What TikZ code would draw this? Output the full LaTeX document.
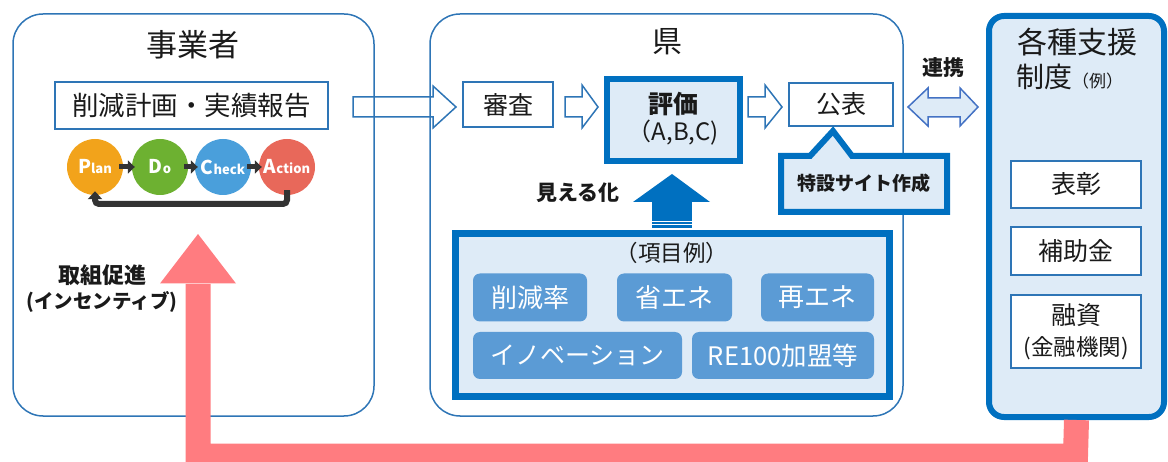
\documentclass[tikz,border=0pt]{standalone}
\usepackage{fontspec}
\setmainfont{Noto Sans CJK JP}
\usetikzlibrary{arrows.meta}
\definecolor{thinblue}{HTML}{2E75B6}
\definecolor{thickblue}{HTML}{0070C0}
\definecolor{lightblue}{HTML}{DEEBF7}
\definecolor{itemblue}{HTML}{5B9BD5}
\definecolor{pinkarrow}{HTML}{FF7C80}
\definecolor{dblborder}{HTML}{4472C4}
\definecolor{porange}{HTML}{F2A31B}
\definecolor{pgreen}{HTML}{6DB131}
\definecolor{pblue}{HTML}{4A9FDB}
\definecolor{pred}{HTML}{E8685A}
\definecolor{darkarrow}{HTML}{333333}
\definecolor{txt}{HTML}{1A1A1A}
\newcommand{\myfs}[1]{\fontsize{#1}{#1}\selectfont}
\begin{document}
\begin{tikzpicture}[x=1pt,y=-1pt,
  container/.style={draw=thinblue, line width=1.5pt, rounded corners=30pt, inner sep=0pt},
  wbox/.style={draw=thinblue, line width=1.5pt, fill=white, inner sep=0pt, text=txt},
  thickbox/.style={draw=thickblue, line width=6pt, fill=lightblue, inner sep=0pt},
  itembox/.style={fill=itemblue, rounded corners=7pt, text=white, inner sep=0pt, minimum height=48pt},
  hollow/.style={draw=thinblue, line width=1.5pt, fill=white, line join=miter},
  pdca/.style={circle, minimum size=56pt, inner sep=0pt, text=white, font=\bfseries},
  lbl/.style={text=txt, inner sep=0pt},
  pdarrow/.style={draw=darkarrow, line width=5pt, -{Triangle[length=7pt,width=13pt]}}
]
\useasboundingbox (0,0) rectangle (1168,462);
\clip (0,0) rectangle (1168,462);

% hollow arrows (behind container borders)
\draw[hollow] (353,97) -- (433,97) -- (433,86) -- (456,107) -- (433,128) -- (433,117) -- (353,117) -- cycle;
\draw[hollow] (565,97) -- (582,97) -- (582,85) -- (598,107) -- (582,128) -- (582,117) -- (565,117) -- cycle;
\draw[hollow] (748,97) -- (765,97) -- (765,85) -- (782,107) -- (765,128) -- (765,117) -- (748,117) -- cycle;

% containers
\node[container, minimum width=361pt, minimum height=402pt] (biz) at (193.5,215) {};
\node[container, minimum width=473pt, minimum height=402pt] (pref) at (666.5,215) {};

% support box
\node[draw=thickblue, line width=6pt, fill=lightblue, rounded corners=15pt, minimum width=175pt, minimum height=401pt, inner sep=0pt] (support) at (1076.5,216.5) {};

% pink incentive arrow
\coordinate (pinkbase) at (198,284);
\draw[pinkarrow, line width=25pt, line join=miter] (support.south) -- (1075.5,456) -- (198,456) -- (pinkbase);
\fill[pinkarrow] (160,283.5) -- (198,234) -- (236,283.5) -- cycle;

% titles
\node[lbl] (t1) at (193,45) {\myfs{31}事業者};
\node[lbl] (t2) at (667,42) {\myfs{30}県};
\node[lbl] (t3) at (1077,42) {\myfs{30}各種支援};
\node[lbl, anchor=west] (t4) at (1016,77) {\myfs{28}制度\myfs{17}（例）};

% business side
\node[wbox, minimum width=273pt, minimum height=47pt] (report) at (191.5,105.5) {\myfs{26.5}削減計画・実績報告};
\node[pdca, fill=porange] (plan) at (95,167) {\myfs{19}P\myfs{13}lan};
\node[pdca, fill=pgreen] (do) at (160,167) {\myfs{19}D\myfs{13}o};
\node[pdca, fill=pblue] (check) at (223,167) {\myfs{19}C\myfs{13}heck};
\node[pdca, fill=pred] (act) at (287,167) {\myfs{19}A\myfs{13}ction};
\draw[pdarrow] ([xshift=-4pt]plan.east) -- ([xshift=3pt]do.west);
\draw[pdarrow] ([xshift=-4pt]do.east) -- ([xshift=3pt]check.west);
\draw[pdarrow] ([xshift=-4pt]check.east) -- ([xshift=3pt]act.west);
\draw[draw=darkarrow, line width=6pt, rounded corners=4pt, -{Triangle[length=8pt,width=14pt]}]
  ([yshift=5pt]act.south) -- (287,204) -- (95,204) -- ([yshift=4pt]plan.south);

\node[lbl, font=\bfseries] (inc1) at (102,275) {\myfs{22}取組促進};
\node[lbl, font=\bfseries] (inc2) at (102,302) {\myfs{19.5}(インセンティブ)};

% prefecture side
\node[wbox, minimum width=90pt, minimum height=45pt] (shinsa) at (508,104.5) {\myfs{25}審査};
\node[thickbox, minimum width=133pt, minimum height=82pt] (hyouka) at (673.5,120) {};
\node[lbl, font=\bfseries] (hy1) at (673.5,104) {\myfs{25}評価};
\node[lbl] (hy2) at (673.5,133) {\myfs{24}（A,B,C)};
\node[wbox, minimum width=104pt, minimum height=43pt] (kouhyou) at (841,104.5) {\myfs{25}公表};

% callout
\draw[draw=thickblue, line width=6pt, fill=lightblue, line join=miter]
  (781,156) -- (810,156) -- (833,131) -- (852,156) -- (947,156) -- (947,212) -- (781,212) -- cycle;
\node[lbl, font=\bfseries] (site) at (864,183) {\myfs{19}特設サイト作成};

% link double arrow
\draw[draw=dblborder, line width=1.5pt, fill=lightblue, line join=miter]
  (908,107) -- (928,88) -- (928,98) -- (960,98) -- (960,88) -- (978,107) -- (960,126) -- (960,117) -- (928,117) -- (928,126) -- cycle;
\node[lbl, font=\bfseries] (renkei) at (943,68) {\myfs{21}連携};

% visualisation arrow
\node[lbl, font=\bfseries] (mieru) at (578,193) {\myfs{21}見える化};
\fill[thickblue] (633,202) -- (672,174) -- (710,202) -- cycle;
\fill[thickblue] (652,201.5) rectangle (692,221.5);
\fill[thickblue] (652,222.5) rectangle (692,224.5);
\fill[thickblue] (652,225.5) rectangle (692,228.5);

% items box
\node[draw=thickblue, line width=7pt, fill=lightblue, minimum width=434pt, minimum height=163pt, inner sep=0pt] (items) at (672.5,315) {};
\node[lbl] (itemt) at (672,253) {\myfs{22.5}（項目例）};
\node[itembox, minimum width=114pt] (i1) at (530,297.5) {\myfs{26}削減率};
\node[itembox, minimum width=115pt] (i2) at (674.5,297.5) {\myfs{26}省エネ};
\node[itembox, minimum width=113pt] (i3) at (817.5,297.5) {\myfs{26}再エネ};
\node[itembox, minimum width=209pt, minimum height=47pt] (i4) at (577.5,355.5) {\myfs{25}イノベーション};
\node[itembox, minimum width=182pt, minimum height=47pt] (i5) at (783,355.5) {\myfs{25.5}RE100加盟等};

% support items
\node[wbox, minimum width=130pt, minimum height=47pt] (hyosho) at (1076,184.5) {\myfs{25}表彰};
\node[wbox, minimum width=130pt, minimum height=48pt] (hojo) at (1076,251) {\myfs{25}補助金};
\node[wbox, minimum width=130pt, minimum height=73pt] (yushi) at (1076,331.5) {};
\node[lbl] (yu1) at (1076,315) {\myfs{25}融資};
\node[lbl] (yu2) at (1076,348) {\myfs{22.5}(金融機関)};
\end{tikzpicture}
\end{document}
